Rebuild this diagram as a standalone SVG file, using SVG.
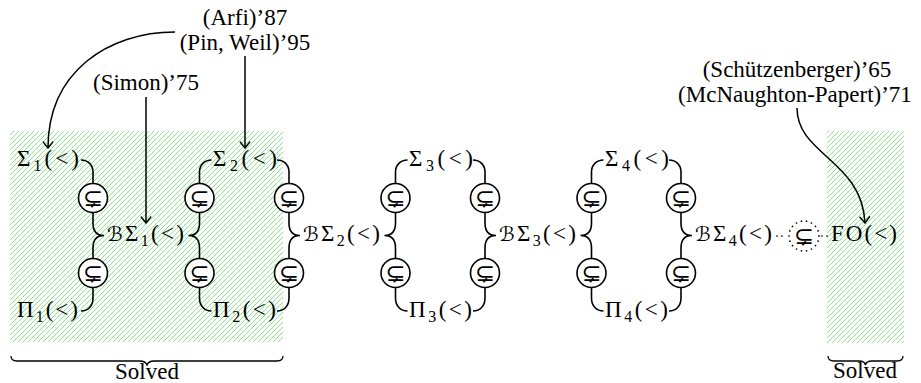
<svg xmlns="http://www.w3.org/2000/svg" width="921" height="383" viewBox="0 0 921 383">
<defs>
<pattern id="hatch" patternUnits="userSpaceOnUse" width="5" height="5">
<path d="M-1,1 L1,-1 M0,5 L5,0 M4,6 L6,4" stroke="#7ee27e" stroke-width="0.9" fill="none"/>
</pattern>
<marker id="arr" markerUnits="userSpaceOnUse" viewBox="-8 -7 10 14" markerWidth="10" markerHeight="14" refX="0" refY="0" orient="auto" overflow="visible">
<path d="M-6,-4.8 Q-1.8,-1.4 0,0 Q-1.8,1.4 -6,4.8" fill="none" stroke="#000" stroke-width="1.4" stroke-linecap="round"/>
</marker>
</defs>
<style>
.t { font-family: "Liberation Serif", "Times New Roman", "DejaVu Serif", serif; font-size: 23px; fill: #000; }
.m { font-family: "Liberation Serif", "Times New Roman", "DejaVu Serif", serif; font-size: 23px; fill: #000; }
.sub { font-size: 16px; }
.cal { font-family: "DejaVu Serif", "DejaVu Sans", serif; font-size: 20px; }
.c { fill: #fff; stroke: #000; stroke-width: 1.6; }
.cd { fill: none; stroke: #000; stroke-width: 1.7; stroke-dasharray: 0 5.2; stroke-linecap: round; }
.sym { font-family: "DejaVu Sans", sans-serif; font-size: 24px; fill: #000; text-anchor: middle; }
.e { fill: none; stroke: #000; stroke-width: 1.6; }
.d { fill: none; stroke: #000; stroke-width: 1.7; stroke-dasharray: 0 5; stroke-linecap: round; }
.a { fill: none; stroke: #000; stroke-width: 1.5; marker-end: url(#arr); }
.br { fill: none; stroke: #000; stroke-width: 1.3; }
</style>

<g id="regions">
<rect x="10" y="131" width="273" height="211" fill="url(#hatch)"/>
<rect x="827" y="131" width="77" height="212" fill="url(#hatch)"/>
</g>

<g id="connectors">
<path class="e" d="M81,160 C88,160 93,165 93,172 V183.5"/>
<path class="e" d="M93,212.5 V223 C93,231 97,235.5 104,235.5 C97,235.5 93,240 93,248 V258.5"/>
<path class="e" d="M93,287.5 V298 C93,306 88,311 81,311"/>
<path class="e" d="M211.5,160 C204.5,160 199.5,165 199.5,172 V183.5"/>
<path class="e" d="M199.5,212.5 V223 C199.5,231 195.5,235.5 188.5,235.5 C195.5,235.5 199.5,240 199.5,248 V258.5"/>
<path class="e" d="M199.5,287.5 V298 C199.5,306 204.5,311 211.5,311"/>
<path class="e" d="M277,160 C284,160 289,165 289,172 V183.5"/>
<path class="e" d="M289,212.5 V223 C289,231 293,235.5 300,235.5 C293,235.5 289,240 289,248 V258.5"/>
<path class="e" d="M289,287.5 V298 C289,306 284,311 277,311"/>
<path class="e" d="M407.5,160 C400.5,160 395.5,165 395.5,172 V183.5"/>
<path class="e" d="M395.5,212.5 V223 C395.5,231 391.5,235.5 384.5,235.5 C391.5,235.5 395.5,240 395.5,248 V258.5"/>
<path class="e" d="M395.5,287.5 V298 C395.5,306 400.5,311 407.5,311"/>
<path class="e" d="M473,160 C480,160 485,165 485,172 V183.5"/>
<path class="e" d="M485,212.5 V223 C485,231 489,235.5 496,235.5 C489,235.5 485,240 485,248 V258.5"/>
<path class="e" d="M485,287.5 V298 C485,306 480,311 473,311"/>
<path class="e" d="M603.5,160 C596.5,160 591.5,165 591.5,172 V183.5"/>
<path class="e" d="M591.5,212.5 V223 C591.5,231 587.5,235.5 580.5,235.5 C587.5,235.5 591.5,240 591.5,248 V258.5"/>
<path class="e" d="M591.5,287.5 V298 C591.5,306 596.5,311 603.5,311"/>
<path class="e" d="M669,160 C676,160 681,165 681,172 V183.5"/>
<path class="e" d="M681,212.5 V223 C681,231 685,235.5 692,235.5 C685,235.5 681,240 681,248 V258.5"/>
<path class="e" d="M681,287.5 V298 C681,306 676,311 669,311"/>
<path class="d" d="M777,236 H787"/>
<path class="d" d="M822,236 H830"/>
<path class="a" d="M175,32 C108,32 48,72 48,148"/>
<path class="a" d="M245,56 V148"/>
<path class="a" d="M146,97 V223"/>
<path class="a" d="M797,108 C797,155 862,160 865,223"/>
<path class="br" d="M11,356 C11,359 13,361 17,361 H140 C144,361 146,362.5 147,365 C148,362.5 150,361 154,361 H277 C281,361 283,359 283,356"/>
<path class="br" d="M828,356 C828,359 830,361 834,361 H859 C863,361 865,362.5 865.5,365 C866,362.5 868,361 872,361 H897 C901,361 903,359 903,356"/>
</g>

<g id="circles">
<g id="c1a"><circle class="c" cx="93" cy="198" r="14.5"/><text class="sym" x="93" y="206">⊊</text></g>
<g id="c1b"><circle class="c" cx="93" cy="273" r="14.5"/><text class="sym" x="93" y="281">⊊</text></g>
<g id="c2a"><circle class="c" cx="199.5" cy="198" r="14.5"/><text class="sym" x="199.5" y="206">⊊</text></g>
<g id="c2b"><circle class="c" cx="199.5" cy="273" r="14.5"/><text class="sym" x="199.5" y="281">⊊</text></g>
<g id="c3a"><circle class="c" cx="289" cy="198" r="14.5"/><text class="sym" x="289" y="206">⊊</text></g>
<g id="c3b"><circle class="c" cx="289" cy="273" r="14.5"/><text class="sym" x="289" y="281">⊊</text></g>
<g id="c4a"><circle class="c" cx="395.5" cy="198" r="14.5"/><text class="sym" x="395.5" y="206">⊊</text></g>
<g id="c4b"><circle class="c" cx="395.5" cy="273" r="14.5"/><text class="sym" x="395.5" y="281">⊊</text></g>
<g id="c5a"><circle class="c" cx="485" cy="198" r="14.5"/><text class="sym" x="485" y="206">⊊</text></g>
<g id="c5b"><circle class="c" cx="485" cy="273" r="14.5"/><text class="sym" x="485" y="281">⊊</text></g>
<g id="c6a"><circle class="c" cx="591.5" cy="198" r="14.5"/><text class="sym" x="591.5" y="206">⊊</text></g>
<g id="c6b"><circle class="c" cx="591.5" cy="273" r="14.5"/><text class="sym" x="591.5" y="281">⊊</text></g>
<g id="c7a"><circle class="c" cx="681" cy="198" r="14.5"/><text class="sym" x="681" y="206">⊊</text></g>
<g id="c7b"><circle class="c" cx="681" cy="273" r="14.5"/><text class="sym" x="681" y="281">⊊</text></g>
<g id="c8"><circle class="cd" cx="804" cy="236" r="15"/><text class="sym" x="804" y="244">⊊</text></g>
</g>

<g id="sigma1"><text class="m" x="17" y="166" textLength="62" lengthAdjust="spacing">Σ<tspan class="sub" dy="5">1</tspan><tspan dy="-5">(&lt;)</tspan></text></g>
<g id="pi1"><text class="m" x="17" y="317" textLength="61" lengthAdjust="spacing">Π<tspan class="sub" dy="5">1</tspan><tspan dy="-5">(&lt;)</tspan></text></g>
<g id="bsigma1"><text class="m" x="107" y="241" textLength="77" lengthAdjust="spacing"><tspan class="cal">ℬ</tspan>Σ<tspan class="sub" dy="5">1</tspan><tspan dy="-5">(&lt;)</tspan></text></g>
<g id="sigma2"><text class="m" x="213" y="166" textLength="64" lengthAdjust="spacing">Σ<tspan class="sub" dy="5">2</tspan><tspan dy="-5">(&lt;)</tspan></text></g>
<g id="pi2"><text class="m" x="213" y="317" textLength="63" lengthAdjust="spacing">Π<tspan class="sub" dy="5">2</tspan><tspan dy="-5">(&lt;)</tspan></text></g>
<g id="bsigma2"><text class="m" x="303" y="241" textLength="77" lengthAdjust="spacing"><tspan class="cal">ℬ</tspan>Σ<tspan class="sub" dy="5">2</tspan><tspan dy="-5">(&lt;)</tspan></text></g>
<g id="sigma3"><text class="m" x="409" y="166" textLength="64" lengthAdjust="spacing">Σ<tspan class="sub" dy="5">3</tspan><tspan dy="-5">(&lt;)</tspan></text></g>
<g id="pi3"><text class="m" x="409" y="317" textLength="63" lengthAdjust="spacing">Π<tspan class="sub" dy="5">3</tspan><tspan dy="-5">(&lt;)</tspan></text></g>
<g id="bsigma3"><text class="m" x="499" y="241" textLength="77" lengthAdjust="spacing"><tspan class="cal">ℬ</tspan>Σ<tspan class="sub" dy="5">3</tspan><tspan dy="-5">(&lt;)</tspan></text></g>
<g id="sigma4"><text class="m" x="605" y="166" textLength="64" lengthAdjust="spacing">Σ<tspan class="sub" dy="5">4</tspan><tspan dy="-5">(&lt;)</tspan></text></g>
<g id="pi4"><text class="m" x="605" y="317" textLength="63" lengthAdjust="spacing">Π<tspan class="sub" dy="5">4</tspan><tspan dy="-5">(&lt;)</tspan></text></g>
<g id="bsigma4"><text class="m" x="695" y="241" textLength="77" lengthAdjust="spacing"><tspan class="cal">ℬ</tspan>Σ<tspan class="sub" dy="5">4</tspan><tspan dy="-5">(&lt;)</tspan></text></g>
<g id="fo"><text class="m" x="831" y="241" textLength="66" lengthAdjust="spacing">FO(&lt;)</text></g>

<g id="cite-arfi"><text class="t" x="245" y="25" text-anchor="middle">(Arfi)’87</text><text class="t" x="245" y="50" text-anchor="middle">(Pin, Weil)’95</text></g>
<g id="cite-simon"><text class="t" x="146" y="90" text-anchor="middle">(Simon)’75</text></g>
<g id="cite-sch"><text class="t" x="797" y="77" text-anchor="middle">(Schützenberger)’65</text><text class="t" x="795" y="102" text-anchor="middle">(McNaughton-Papert)’71</text></g>
<g id="solved1"><text class="t" x="147" y="379" text-anchor="middle">Solved</text></g>
<g id="solved2"><text class="t" x="865" y="378" text-anchor="middle">Solved</text></g>
</svg>
